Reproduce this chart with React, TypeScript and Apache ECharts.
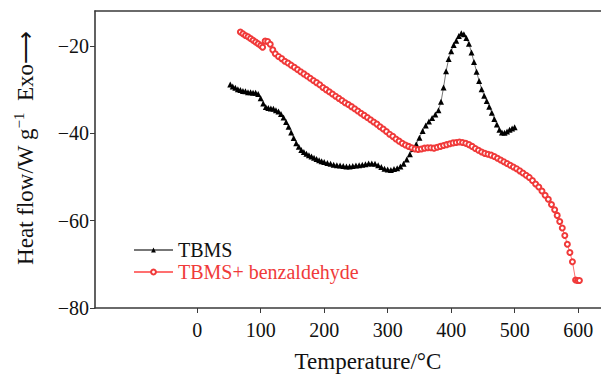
import React, { useEffect, useRef } from "react";
import * as echarts from "echarts";

const xTicks = [0, 100, 200, 300, 400, 500, 600];
const yTicks = [-80, -60, -40, -20];

const tbms: [number, number][] = [
  [52, -28.8], [56, -29.3], [60, -29.6], [64, -29.9], [68, -30.1], [72, -30.3], [76, -30.4], [80, -30.6],
  [84, -30.6], [88, -30.7], [92, -30.7], [96, -31.0], [100, -32.0], [104, -33.2], [108, -34.0], [112, -34.2],
  [116, -34.3], [120, -34.4], [124, -34.7], [128, -35.0], [132, -35.6], [136, -36.4], [140, -37.4], [144, -38.5],
  [148, -39.8], [152, -41.1], [156, -42.3], [160, -43.1], [164, -43.8], [168, -44.3], [172, -44.7], [176, -45.0],
  [180, -45.3], [184, -45.6], [188, -45.9], [192, -46.2], [196, -46.4], [200, -46.6], [205, -46.8], [210, -47.0],
  [215, -47.2], [220, -47.3], [225, -47.4], [230, -47.5], [235, -47.6], [240, -47.6], [245, -47.5], [250, -47.4],
  [255, -47.3], [260, -47.2], [265, -47.1], [270, -46.9], [275, -46.9], [280, -47.0], [285, -47.3], [290, -47.7],
  [295, -48.1], [300, -48.3], [305, -48.4], [310, -48.2], [315, -48.0], [320, -47.6], [325, -47.0], [330, -46.0],
  [335, -44.8], [340, -43.6], [345, -42.5], [350, -41.0], [355, -39.5], [360, -38.2], [365, -37.3], [370, -36.5],
  [375, -35.7], [380, -34.7], [384, -32.8], [388, -29.5], [392, -25.8], [396, -23.0], [400, -21.2], [404, -19.8],
  [408, -18.8], [412, -17.7], [416, -17.1], [420, -17.3], [424, -18.2], [428, -19.5], [432, -21.5], [436, -23.7],
  [440, -25.9], [444, -28.0], [448, -29.9], [452, -31.4], [456, -32.6], [460, -33.9], [464, -35.3], [468, -36.7],
  [472, -38.0], [476, -39.2], [480, -39.8], [484, -39.9], [488, -39.6], [492, -39.2], [496, -38.9], [500, -38.6],
];

const tbmsBenz: [number, number][] = [
  [68, -16.8], [72, -17.2], [76, -17.6], [80, -17.9], [84, -18.3], [88, -18.7], [92, -19.1], [96, -19.5],
  [100, -19.9], [103, -20.3], [107, -18.9], [111, -19.0], [115, -19.6], [119, -20.9], [123, -21.8], [128, -22.4],
  [133, -22.9], [138, -23.5], [143, -23.9], [148, -24.4], [153, -24.9], [158, -25.4], [163, -25.9], [168, -26.4],
  [173, -26.9], [178, -27.4], [183, -27.9], [188, -28.4], [193, -28.9], [198, -29.5], [203, -30.0], [208, -30.5],
  [213, -31.0], [218, -31.5], [223, -32.0], [228, -32.5], [233, -33.0], [238, -33.4], [243, -33.9], [248, -34.4],
  [253, -34.9], [258, -35.4], [263, -35.9], [268, -36.4], [273, -36.9], [278, -37.4], [283, -37.9], [288, -38.5],
  [293, -39.0], [298, -39.6], [303, -40.2], [308, -40.7], [313, -41.3], [318, -41.8], [323, -42.3], [328, -42.7],
  [333, -43.0], [338, -43.3], [343, -43.6], [348, -43.7], [353, -43.6], [358, -43.4], [363, -43.3], [368, -43.3],
  [373, -43.4], [378, -43.2], [383, -43.0], [388, -42.8], [393, -42.6], [398, -42.4], [403, -42.2], [408, -42.1],
  [413, -42.0], [418, -42.1], [423, -42.3], [428, -42.6], [433, -43.0], [438, -43.5], [443, -43.9], [448, -44.3],
  [453, -44.6], [458, -44.8], [463, -45.0], [468, -45.3], [473, -45.7], [478, -46.1], [483, -46.5], [488, -46.9],
  [493, -47.3], [498, -47.7], [503, -48.1], [508, -48.6], [513, -49.1], [518, -49.6], [523, -50.1], [528, -50.8],
  [533, -51.6], [538, -52.3], [543, -53.2], [548, -54.2], [553, -55.1], [558, -56.3], [563, -57.5], [567, -58.8],
  [571, -60.2], [575, -61.7], [579, -63.4], [583, -65.4], [587, -67.3], [591, -69.4], [596, -73.6], [599, -73.7],
  [602, -73.7],
];

const seriesNames = ["TBMS", "TBMS+ benzaldehyde"];
const xName = "Temperature/°C";

const FONT = "'Liberation Serif', 'Times New Roman', serif";
const AXIS = "#3a3a3a";
const RED = "#f03a3a";

const fmt = (v: number) => (v < 0 ? "\u2212" + Math.abs(v) : String(v));

export default function App() {
  const ref = useRef<HTMLDivElement>(null);
  useEffect(() => {
    if (!ref.current) return;
    const chart = echarts.init(ref.current, undefined, { renderer: "svg" });
    chart.setOption({
      animation: false,
      backgroundColor: "#fff",
      grid: { left: 95, top: 11, right: 0, bottom: 66 },
      legend: {
        orient: "vertical",
        left: 133,
        top: 240,
        padding: 0,
        itemWidth: 39,
        itemHeight: 6,
        itemGap: 2,
        textStyle: { fontFamily: FONT, fontSize: 20, lineHeight: 16 },
        data: [
          { name: seriesNames[0], textStyle: { color: "#111" } },
          { name: seriesNames[1], textStyle: { color: RED } },
        ],
      },
      xAxis: [
        {
          type: "value",
          min: -161,
          max: 636,
          splitLine: { show: false },
          axisLine: { onZero: false, lineStyle: { color: AXIS, width: 1.6 } },
          axisTick: { length: 5, lineStyle: { color: AXIS, width: 1 }, customValues: xTicks },
          axisLabel: {
            customValues: xTicks,
            formatter: fmt,
            color: "#111",
            fontFamily: FONT,
            fontSize: 20,
            margin: 12,
          },
        },
        {
          type: "value",
          position: "top",
          min: -161,
          max: 636,
          splitLine: { show: false },
          axisLine: { show: true, onZero: false, lineStyle: { color: AXIS, width: 1.6 } },
          axisTick: { show: false },
          axisLabel: { show: false },
        },
      ],
      yAxis: {
        type: "value",
        min: -80,
        max: -12,
        splitLine: { show: false },
        axisLine: { show: true, onZero: false, lineStyle: { color: AXIS, width: 1.6 } },
        axisTick: { show: true, length: 5, lineStyle: { color: AXIS, width: 1 }, customValues: yTicks },
        axisLabel: {
          customValues: yTicks,
          formatter: fmt,
          color: "#111",
          fontFamily: FONT,
          fontSize: 20,
          margin: 6,
        },
      },
      graphic: [
        {
          type: "text",
          x: 25,
          y: 148,
          rotation: Math.PI / 2,
          style: {
            text: "Heat flow/W g{sup|\u22121}  Exo\u27F6",
            fontFamily: FONT,
            fontSize: 23,
            fill: "#111",
            align: "center",
            verticalAlign: "middle",
            rich: {
              sup: { fontFamily: FONT, fontSize: 15, fill: "#111", padding: [0, 0, 12, 0] },
            },
          },
        },
        {
          type: "text",
          x: 368,
          y: 350,
          style: {
            text: xName,
            fontFamily: FONT,
            fontSize: 23,
            fill: "#111",
            align: "center",
            verticalAlign: "top",
          },
        },
      ],
      series: [
        {
          name: seriesNames[0],
          type: "line",
          data: tbms,
          symbol: "triangle",
          symbolSize: 6,
          showSymbol: true,
          itemStyle: { color: "#000" },
          lineStyle: { color: "#777", width: 1 },
        },
        {
          name: seriesNames[1],
          type: "line",
          data: tbmsBenz,
          symbol: "emptyCircle",
          symbolSize: 5,
          showSymbol: true,
          itemStyle: { color: RED, borderColor: RED, borderWidth: 1 },
          lineStyle: { color: "#ff7070", width: 1 },
        },
      ],
    });
    return () => chart.dispose();
  }, []);
  return (
    <div
      ref={ref}
      style={{ position: "fixed", left: 0, top: 0, width: 601, height: 374 }}
    />
  );
}
